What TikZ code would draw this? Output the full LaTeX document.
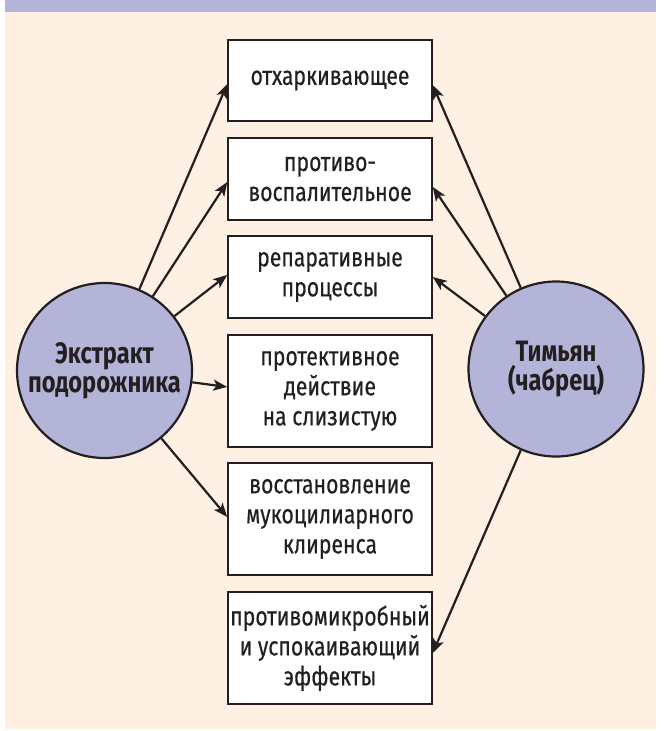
\documentclass[tikz,border=0pt]{standalone}
\usepackage{fontspec}
\setmainfont{Fira Sans}[FakeStretch=0.8]
\newfontfamily\boxfont{Fira Sans}[FakeStretch=0.8,FakeBold=0.4]
\usetikzlibrary{arrows.meta}
\definecolor{lav}{HTML}{B4B4D8}
\definecolor{beige}{HTML}{FEF0E2}
\definecolor{ink}{HTML}{231F20}
\begin{document}
\begin{tikzpicture}[x=1pt,y=-1pt,
  box/.style={draw=ink, line width=1.5pt, fill=white, minimum width=204pt, inner sep=0pt, align=center, font=\boxfont\fontsize{26.5}{30}\selectfont, text=ink},
  hub/.style={circle, draw=ink, line width=2.2pt, fill=lav, minimum size=175pt, inner sep=0pt, align=center, font=\fontsize{29.5}{29}\selectfont\bfseries, text=ink},
  arr/.style={draw=ink, line width=2.2pt, -{Stealth[length=14pt,width=11pt,inset=3.5pt]}}]
\useasboundingbox (0,0) rectangle (665,731);
\fill[white] (0,0) rectangle (665,731);
\fill[beige] (5,12) rectangle (656,729);
\fill[lav] (5,0) rectangle (656,12);
\node[box, minimum height=81pt] (b1) at (330,80.5) {отхаркивающее};
\node[box, minimum height=82pt] (b2) at (330,179) {противо-\\воспалительное};
\node[box, minimum height=82pt] (b3) at (330,277) {репаративные\\процессы};
\node[box, minimum height=112pt] (b4) at (330,391) {протективное\\действие\\на слизистую};
\node[box, minimum height=112pt] (b5) at (330,519) {восстановление\\мукоцилиарного\\клиренса};
\node[box, minimum height=112pt] (b6) at (330,648) {противомикробный\\и успокаивающий\\эффекты};
\node[hub] (L) at (104.5,370.5) {Экстракт\\подорожника};
\node[hub] (R) at (556,369) {Тимьян\\(чабрец)};
\draw[arr] (L) -- ([yshift=-3.5pt]b1.west);
\draw[arr] (L) -- ([yshift=-3pt]b2.west);
\draw[arr] (L) -- ([yshift=2pt]b3.west);
\draw[arr] (L) -- ([yshift=4pt]b4.west);
\draw[arr] (L) -- ([yshift=2pt]b5.west);
\draw[arr] (R) -- ([yshift=-4.5pt]b1.east);
\draw[arr] (R) -- ([yshift=-8pt]b2.east);
\draw[arr] (R) -- (b3.east);
\draw[arr] (R) -- ([yshift=-5pt]b6.east);
\end{tikzpicture}
\end{document}
